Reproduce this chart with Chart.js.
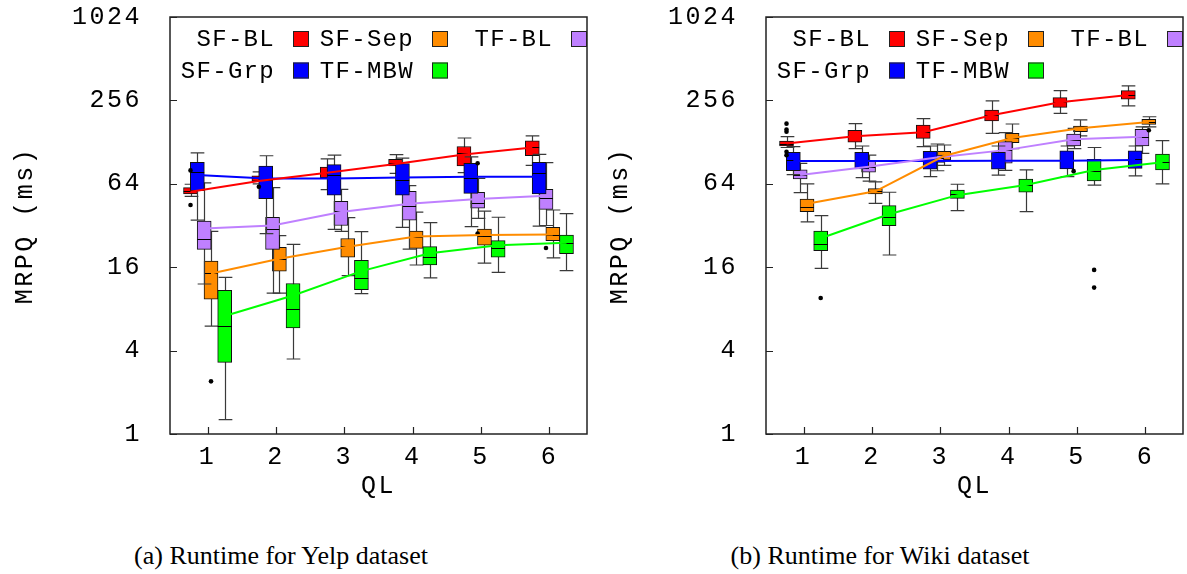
<!DOCTYPE html>
<html>
<head>
<meta charset="utf-8">
<script src="https://cdn.jsdelivr.net/npm/chart.js"></script>
<style>
  body { margin: 0; width: 1187px; height: 574px; background: #fff; position: relative; overflow: hidden; }
  canvas { position: absolute; top: 0; }
  #yelpChart { left: 0; }
  #wikiChart { left: 595px; }
  .caption { position: absolute; top: 541px; font-family: "Liberation Serif", serif; font-size: 26px;
             color: #000; white-space: nowrap; transform: translateX(-50%); }
</style>
</head>
<body>
<canvas id="yelpChart" width="595" height="520"></canvas>
<canvas id="wikiChart" width="592" height="520"></canvas>
<div class="caption" style="left:281px">(a) Runtime for Yelp dataset</div>
<div class="caption" style="left:880px">(b) Runtime for Wiki dataset</div>

<script>
// query length groups and y ticks
const qlValues = [1, 2, 3, 4, 5, 6];
const qlLabels = ['1', '2', '3', '4', '5', '6'];
const yTicks = [1, 4, 16, 64, 256, 1024];

// box rows are [whisker low, q1, median, q3, whisker high] for QL 1..6
// lines = the connecting curve value at each QL, out = [QL, value] outliers

// ---- Yelp ----
const yelpSfBlBox = [[52, 54, 57, 60, 63.5], [64, 67, 70, 73, 78], [58, 71, 77, 84.6, 97],
                     [76, 86, 91, 96, 104], [77, 86, 106, 119, 137], [87, 102, 118, 131, 142]];
const yelpSfBlLine = [56, 67, 77, 89, 104, 117];
const yelpSfBlOut = [[1, 80], [1, 45], [2, 61]];

const yelpSfSepBox = [[6.0, 9.4, 14.6, 17.7, 29], [10.4, 15, 18.4, 22.3, 27], [13.9, 18.9, 22.9, 25.8, 36.5],
                      [16.6, 21.9, 26.3, 29.2, 40], [17.1, 23.1, 26.9, 30.2, 40.7], [18.7, 24.9, 27.3, 31, 41.4]];
const yelpSfSepLine = [14.4, 18.4, 22.5, 26.6, 27.3, 27.6];
const yelpSfSepOut = [[1, 2.4]];

const yelpTfBlBox = [[12.1, 21.5, 25.4, 34.5, 65], [10.4, 21.5, 30, 36.7, 60], [29, 32, 40.7, 47.8, 58.4],
                     [21.6, 35, 44.2, 56.5, 62], [36, 42.6, 46.2, 55.6, 70], [32, 41.8, 50.2, 58.4, 91]];
const yelpTfBlLine = [30.5, 32, 40, 46, 49.8, 52.4];
const yelpTfBlOut = [[5, 90], [5, 28], [6, 22]];

const yelpSfGrpBox = [[35, 57, 78, 91.5, 107], [28, 50, 68, 86, 102], [30, 53, 74, 88, 103],
                      [31, 53, 68, 89.5, 98], [31.4, 54.6, 71, 90, 100], [31.7, 54, 76, 91.5, 104.5]];
const yelpSfGrpLine = [74, 70, 70, 71, 72, 72];
const yelpSfGrpOut = [];

const yelpTfMbwBox = [[1.27, 3.29, 6.0, 10.9, 13.5], [3.48, 5.82, 7.95, 12.2, 23.4], [10.3, 11, 13.4, 17.9, 28.9],
                      [13.4, 16.6, 18.9, 22.5, 33.6], [14.7, 18.9, 21.9, 24.9, 36.7], [15.1, 20, 23.8, 27.3, 39]];
const yelpTfMbwLine = [7.1, 10, 15, 20.2, 23, 24];
const yelpTfMbwOut = [];

// ---- Wiki ----
const wikiSfBlBox = [[117, 120, 125, 130, 140], [115, 128, 141, 155.6, 174], [118.6, 136, 152, 170, 189],
                     [148, 182, 201, 218, 254], [206, 228, 248, 268, 301], [234, 261, 280, 301, 326]];
const wikiSfBlLine = [125, 141, 151, 200, 248, 280];
const wikiSfBlOut = [[1, 174], [1, 158], [1, 152], [1, 109], [1, 103]];

const wikiSfSepBox = [[34, 40.3, 43.7, 49.7, 64], [46.2, 54, 56.5, 59, 66], [87, 95, 103, 110, 122],
                      [115, 127, 137, 148, 173], [142, 152, 161, 167, 185], [165, 172, 179, 187, 195]];
const wikiSfSepLine = [46, 56.5, 101.5, 137, 161, 179];
const wikiSfSepOut = [[6, 156]];

const wikiTfBlBox = [[55.2, 69.3, 74, 80.6, 90], [67, 77.5, 85, 93.5, 103], [79.5, 91.5, 98, 103, 124],
                     [80, 90, 112, 129, 150], [115, 120, 132, 146, 161], [106, 120, 140, 158, 165]];
const wikiTfBlLine = [74, 85, 99, 112, 134, 140];
const wikiTfBlOut = [[5, 79]];

const wikiSfGrpBox = [[74.5, 79.5, 95, 108, 118.7], [71, 81.8, 93.5, 108, 120], [72, 81.5, 95, 110, 120],
                      [74, 81.5, 95, 108, 120], [72, 82, 95, 110.5, 120], [73, 82.7, 96, 110.5, 120]];
const wikiSfGrpLine = [93.5, 93.5, 93.5, 94, 94, 95];
const wikiSfGrpOut = [];

const wikiTfMbwBox = [[15.7, 21.1, 23.4, 29.2, 37.7], [19.6, 31.9, 36.6, 44.5, 55.6], [41, 50.2, 53.8, 57.7, 63.5],
                      [40.3, 55.6, 62.7, 69.3, 80.6], [62.7, 67, 79, 96, 117], [64, 80.6, 91.5, 105, 131]];
const wikiTfMbwLine = [25.9, 38.6, 53, 62.7, 80.5, 91.5];
const wikiTfMbwOut = [[1, 9.6], [5, 15.3], [5, 11.4]];

// ---- styling ----
const monoFont = '"Liberation Mono", monospace';
const seriesStyle = {
  'SF-BL':  { color: '#ff0000', off: -0.25, order: 5 },
  'SF-Sep': { color: '#ff8c00', off: 0.05,  order: 4 },
  'TF-BL':  { color: '#bf80ff', off: -0.05, order: 3 },
  'SF-Grp': { color: '#0000ff', off: -0.15, order: 2 },
  'TF-MBW': { color: '#00ff00', off: 0.25,  order: 1 }
};
const legendSlots = [['SF-BL', 0, 0], ['SF-Sep', 0, 1], ['TF-BL', 0, 2], ['SF-Grp', 1, 0], ['TF-MBW', 1, 1]];
const legendColX = [123, 262, 401];
const legendRowY = [22, 53.5];
const boxHalf = 0.1;

const boxPlugin = {
  id: 'boxParts',
  beforeLayout(chart) { chart.ctx.letterSpacing = '2.5px'; },
  beforeDraw(chart) { chart.ctx.letterSpacing = '2.5px'; },
  beforeDatasetDraw(chart, args) {
    const ds = chart.data.datasets[args.index];
    if (!ds.boxStats) return;
    const xs = chart.scales.x, ys = chart.scales.y, c = chart.ctx;
    const half = xs.getPixelForValue(boxHalf) - xs.getPixelForValue(0);
    c.save();
    c.strokeStyle = '#3a3a3a';
    c.lineWidth = 1.2;
    ds.boxStats.forEach((b, i) => {
      const xc = Math.round(xs.getPixelForValue(qlValues[i] + ds.xOff)) + 0.5;
      const yl = ys.getPixelForValue(b[0]), yh = ys.getPixelForValue(b[4]);
      c.beginPath();
      c.moveTo(xc, yl); c.lineTo(xc, yh);
      c.moveTo(xc - half, yl); c.lineTo(xc + half, yl);
      c.moveTo(xc - half, yh); c.lineTo(xc + half, yh);
      c.stroke();
    });
    c.restore();
  },
  afterDatasetDraw(chart, args) {
    const ds = chart.data.datasets[args.index];
    if (!ds.boxStats) return;
    const xs = chart.scales.x, ys = chart.scales.y, c = chart.ctx;
    const half = xs.getPixelForValue(boxHalf) - xs.getPixelForValue(0);
    c.save();
    c.strokeStyle = '#000';
    c.lineWidth = 1;
    ds.boxStats.forEach((b, i) => {
      const xc = xs.getPixelForValue(qlValues[i] + ds.xOff);
      const ym = Math.round(ys.getPixelForValue(b[2])) + 0.5;
      c.beginPath();
      c.moveTo(xc - half, ym); c.lineTo(xc + half, ym);
      c.stroke();
    });
    c.restore();
  },
  afterDraw(chart) {
    const a = chart.chartArea, c = chart.ctx, xs = chart.scales.x, ys = chart.scales.y;
    c.save();
    // legend inside the plot
    c.font = '24px ' + monoFont;
    c.letterSpacing = '1.3px';
    c.textAlign = 'right';
    c.textBaseline = 'middle';
    legendSlots.forEach(([name, row, col]) => {
      const sx = a.left + legendColX[col], sy = a.top + legendRowY[row];
      c.fillStyle = '#000';
      c.fillText(name, sx - 18, sy + 1);
      c.fillStyle = seriesStyle[name].color;
      c.fillRect(sx, sy - 8, 16, 16);
      c.strokeStyle = '#222';
      c.lineWidth = 1;
      c.strokeRect(sx + 0.5, sy - 7.5, 15, 15);
    });
    // frame and inward tick marks
    c.strokeStyle = '#222';
    c.lineWidth = 1.5;
    c.strokeRect(a.left, a.top, a.right - a.left, a.bottom - a.top);
    c.lineWidth = 1.2;
    c.beginPath();
    yTicks.forEach(v => {
      const y = Math.round(ys.getPixelForValue(v)) + 0.5;
      c.moveTo(a.left, y); c.lineTo(a.left + 7, y);
    });
    qlValues.forEach(v => {
      const x = Math.round(xs.getPixelForValue(v)) + 0.5;
      c.moveTo(x, a.bottom); c.lineTo(x, a.bottom - 7);
    });
    c.stroke();
    c.restore();
  }
};

function buildDatasets(series) {
  const sets = [];
  series.forEach(s => {
    const st = seriesStyle[s.name];
    sets.push({
      type: 'bar', label: s.name,
      data: qlValues.map((q, i) => ({ x: q + st.off, y: [s.box[i][1], s.box[i][3]] })),
      backgroundColor: st.color, borderColor: '#111', borderWidth: 1, borderSkipped: false,
      barThickness: 14, grouped: false, order: st.order,
      boxStats: s.box, xOff: st.off
    });
    sets.push({
      type: 'line', label: s.name + ' line',
      data: qlValues.map((q, i) => ({ x: q + st.off, y: s.line[i] })),
      borderColor: st.color, borderWidth: 2, pointRadius: 0, fill: false, tension: 0, order: 0
    });
    if (s.out.length) {
      sets.push({
        type: 'scatter', label: s.name + ' outliers',
        data: s.out.map(([q, v]) => ({ x: q + st.off, y: v })),
        backgroundColor: '#000', borderWidth: 0, pointRadius: 2.3, order: 0
      });
    }
  });
  return sets;
}

function makeChart(id, series, yWidth, padRight) {
  const tickFont = { family: monoFont, size: 25 };
  new Chart(document.getElementById(id), {
    type: 'bar',
    data: { datasets: buildDatasets(series) },
    options: {
      responsive: false,
      animation: false,
      layout: { padding: { top: 17, right: padRight, bottom: 0, left: 0 } },
      plugins: { legend: { display: false }, tooltip: { enabled: false } },
      scales: {
        x: {
          type: 'linear', min: 0.45, max: 6.55, offset: false,
          afterBuildTicks: sc => { sc.ticks = qlValues.map(v => ({ value: v })); },
          ticks: { callback: v => qlLabels[qlValues.indexOf(v)], font: tickFont, color: '#000',
                   padding: 0, maxRotation: 0, autoSkip: false },
          grid: { display: false }, border: { display: false },
          title: { display: true, text: 'QL', font: tickFont, color: '#000', padding: { top: 0, bottom: 19 } },
          afterFit: sc => { sc.height = 86; sc.paddingLeft = 0; sc.paddingRight = 0; }
        },
        y: {
          type: 'logarithmic', min: 1, max: 1024,
          afterBuildTicks: sc => { sc.ticks = yTicks.map(v => ({ value: v })); },
          ticks: { callback: v => String(v), font: tickFont, color: '#000', padding: 20, autoSkip: false },
          grid: { display: false }, border: { display: false },
          title: { display: true, text: 'MRPQ (ms)', font: tickFont, color: '#000', padding: { top: 10, bottom: 0 } },
          afterFit: sc => { sc.width = yWidth; sc.paddingTop = 0; sc.paddingBottom = 0; }
        }
      }
    },
    plugins: [boxPlugin]
  });
}

makeChart('yelpChart', [
  { name: 'SF-BL',  box: yelpSfBlBox,  line: yelpSfBlLine,  out: yelpSfBlOut },
  { name: 'SF-Sep', box: yelpSfSepBox, line: yelpSfSepLine, out: yelpSfSepOut },
  { name: 'TF-BL',  box: yelpTfBlBox,  line: yelpTfBlLine,  out: yelpTfBlOut },
  { name: 'SF-Grp', box: yelpSfGrpBox, line: yelpSfGrpLine, out: yelpSfGrpOut },
  { name: 'TF-MBW', box: yelpTfMbwBox, line: yelpTfMbwLine, out: yelpTfMbwOut }
], 170, 8);

makeChart('wikiChart', [
  { name: 'SF-BL',  box: wikiSfBlBox,  line: wikiSfBlLine,  out: wikiSfBlOut },
  { name: 'SF-Sep', box: wikiSfSepBox, line: wikiSfSepLine, out: wikiSfSepOut },
  { name: 'TF-BL',  box: wikiTfBlBox,  line: wikiTfBlLine,  out: wikiTfBlOut },
  { name: 'SF-Grp', box: wikiSfGrpBox, line: wikiSfGrpLine, out: wikiSfGrpOut },
  { name: 'TF-MBW', box: wikiTfMbwBox, line: wikiTfMbwLine, out: wikiTfMbwOut }
], 171, 4);
</script>
</body>
</html>
